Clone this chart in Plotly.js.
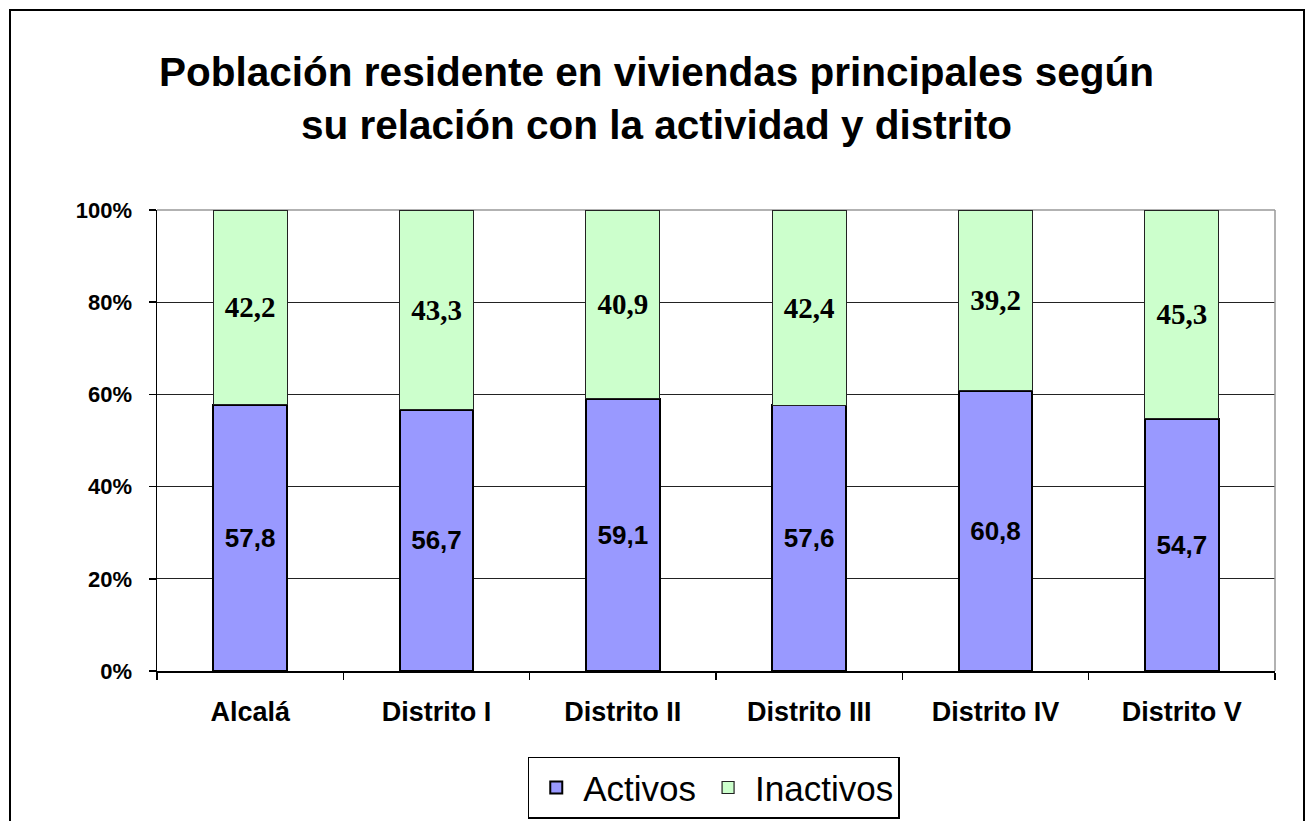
<!DOCTYPE html>
<html>
<head>
<meta charset="utf-8">
<script src="https://cdn.plot.ly/plotly-3.0.1.min.js"></script>
<style>
  html, body { margin: 0; padding: 0; overflow: hidden; background: #fff; }
  #chart { position: absolute; left: 0; top: 0; width: 1313px; height: 821px; }
  #frame { position: absolute; left: 9px; top: 9px; width: 1292px; height: 840px;
           border: 2px solid #000; pointer-events: none; }
</style>
</head>
<body>
<div id="chart"></div>
<div id="frame"></div>
<script>
const categories = ['Alcalá', 'Distrito I', 'Distrito II', 'Distrito III', 'Distrito IV', 'Distrito V'];
const activos    = [57.8, 56.7, 59.1, 57.6, 60.8, 54.7];
const inactivos  = [42.2, 43.3, 40.9, 42.4, 39.2, 45.3];
const yTicks     = [0, 20, 40, 60, 80, 100];
const yTickText  = ['0%', '20%', '40%', '60%', '80%', '100%'];
const titleText  = 'Población residente en viviendas principales según<br>su relación con la actividad y distrito';

const sans = 'Liberation Sans, Arial, sans-serif';
const serif = 'Liberation Serif, Times New Roman, serif';

const traces = [
  {
    type: 'bar', name: 'Activos', x: categories, y: activos,
    marker: { color: '#9999FF', line: { color: '#000', width: 2 } },
    texttemplate: '%{y:.1f}', textposition: 'inside', insidetextanchor: 'middle',
    textangle: 0, textfont: { family: sans, size: 26, color: '#000', weight: 'bold' },
    hoverinfo: 'skip'
  },
  {
    type: 'bar', name: 'Inactivos', x: categories, y: inactivos,
    marker: { color: '#CCFFCC', line: { color: '#222', width: 1.2 } },
    texttemplate: '%{y:.1f}', textposition: 'inside', insidetextanchor: 'middle',
    textangle: 0, textfont: { family: serif, size: 29, color: '#000', weight: 'bold' },
    hoverinfo: 'skip'
  }
];

const layout = {
  width: 1313, height: 821,
  margin: { l: 157, r: 38, t: 210, b: 150, autoexpand: false },
  paper_bgcolor: '#fff', plot_bgcolor: '#fff',
  separators: ', ',
  barmode: 'stack',
  bargap: 0.603,
  showlegend: true,
  title: {
    text: titleText,
    font: { family: sans, size: 40.5, color: '#000', weight: 'bold' },
    x: 0.5, xref: 'container', xanchor: 'center',
    y: 1 - 86 / 821, yref: 'container', yanchor: 'top'
  },
  xaxis: {
    type: 'category', tickson: 'boundaries', automargin: false,
    showline: true, linecolor: '#000', linewidth: 1.5,
    ticks: 'outside', ticklen: 7, tickcolor: '#000', tickwidth: 1.5,
    showgrid: false,
    tickfont: { family: sans, size: 27, color: '#000', weight: 'bold' },
    ticklabelstandoff: 16
  },
  yaxis: {
    range: [0, 100], tickmode: 'array', tickvals: yTicks, ticktext: yTickText,
    automargin: false,
    showline: true, linecolor: '#000', linewidth: 1.5,
    ticks: 'outside', ticklen: 7, tickcolor: '#000', tickwidth: 1.5,
    showgrid: true, gridcolor: '#222', gridwidth: 1.2,
    zeroline: false,
    tickfont: { family: sans, size: 22, color: '#000', weight: 'bold' },
    ticklabelstandoff: 12
  },
  legend: {
    orientation: 'h', x: 0.498, xanchor: 'center', y: -0.186, yanchor: 'top',
    bordercolor: '#000', borderwidth: 1.5, bgcolor: '#fff',
    font: { family: sans, size: 35, color: '#000' },
    itemwidth: 44,
    traceorder: 'normal'
  },
  shapes: [
    { type: 'line', xref: 'paper', yref: 'paper', x0: 0, x1: 1, y0: 1, y1: 1,
      line: { color: '#999', width: 1.5 }, layer: 'below' },
    { type: 'line', xref: 'paper', yref: 'paper', x0: 1, x1: 1, y0: 0, y1: 1,
      line: { color: '#999', width: 1.5 }, layer: 'above' }
  ]
};

Plotly.newPlot('chart', traces, layout, { staticPlot: true, displayModeBar: false });
</script>
</body>
</html>
